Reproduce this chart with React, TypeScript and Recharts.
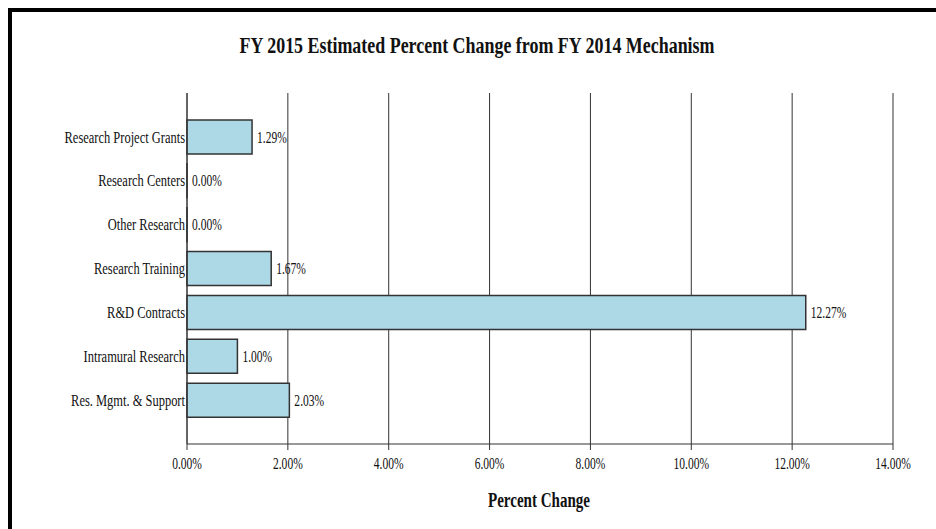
import React from 'react';
import { BarChart, Bar, XAxis, YAxis, CartesianGrid, LabelList } from 'recharts';

const categories = [
  'Research Project Grants',
  'Research Centers',
  'Other Research',
  'Research Training',
  'R&D Contracts',
  'Intramural Research',
  'Res. Mgmt. & Support',
];
const pctChange = [1.29, 0, 0, 1.67, 12.27, 1.0, 2.03];
const xTicks = [0, 2, 4, 6, 8, 10, 12, 14];

const data = categories.map((name, i) => ({ name, value: pctChange[i] }));

const FONT = '"Liberation Serif", "Times New Roman", serif';
const INK = '#333';
const fmt = (v: number) => `${v.toFixed(2)}%`;

function CategoryTick({ x, y, payload }: any) {
  return (
    <text
      transform={`translate(${x},${y}) scale(0.78,1)`}
      textAnchor="end"
      dy="0.35em"
      fontSize={16}
      fontFamily={FONT}
      fill="#111"
    >
      {payload.value}
    </text>
  );
}

function PercentTick({ x, y, payload }: any) {
  return (
    <text
      transform={`translate(${x},${y}) scale(0.72,1)`}
      textAnchor="middle"
      dy={17}
      fontSize={16}
      fontFamily={FONT}
      fill="#111"
    >
      {fmt(payload.value)}
    </text>
  );
}

function ValueLabel({ x, y, width, height, value }: any) {
  return (
    <text
      transform={`translate(${x + width + 5},${y + height / 2}) scale(0.72,1)`}
      textAnchor="start"
      dy="0.35em"
      fontSize={16}
      fontFamily={FONT}
      fill="#111"
    >
      {fmt(value)}
    </text>
  );
}

export default function App() {
  return (
    <div
      style={{
        position: 'fixed',
        left: 0,
        top: 0,
        width: 936,
        height: 529,
        overflow: 'hidden',
        background: '#fff',
      }}
    >
      <div
        style={{
          position: 'absolute',
          left: 8,
          top: 8,
          width: 960,
          height: 560,
          borderTop: '4px solid #000',
          borderLeft: '4px solid #000',
        }}
      />
      <div style={{ position: 'absolute', left: 0, top: 0 }}>
        <BarChart
          width={936}
          height={529}
          data={data}
          layout="vertical"
          margin={{ top: 93, right: 43, bottom: 55, left: 0 }}
        >
          <CartesianGrid horizontal={false} stroke={INK} />
          <XAxis
            type="number"
            domain={[0, 14]}
            ticks={xTicks}
            interval={0}
            height={30}
            tickSize={6}
            axisLine={{ stroke: INK }}
            tickLine={{ stroke: INK }}
            tick={<PercentTick />}
          />
          <YAxis
            type="category"
            dataKey="name"
            width={187}
            interval={0}
            tickLine={false}
            tickSize={0}
            tickMargin={2}
            axisLine={{ stroke: INK }}
            padding={{ top: 22, bottom: 22 }}
            tick={<CategoryTick />}
          />
          <Bar
            dataKey="value"
            fill="#ADD8E6"
            stroke={INK}
            strokeWidth={1.5}
            barSize={34}
            minPointSize={0.01}
            isAnimationActive={false}
          >
            <LabelList dataKey="value" content={<ValueLabel />} />
          </Bar>
        </BarChart>
      </div>
      <svg
        width={936}
        height={529}
        style={{ position: 'absolute', left: 0, top: 0, pointerEvents: 'none' }}
      >
        <text
          x={477}
          y={53}
          textAnchor="middle"
          fontSize={24}
          fontWeight="bold"
          fontFamily={FONT}
          fill="#111"
          textLength={475}
          lengthAdjust="spacingAndGlyphs"
        >
          FY 2015 Estimated Percent Change from FY 2014 Mechanism
        </text>
        <text
          x={539}
          y={507}
          textAnchor="middle"
          fontSize={20}
          fontWeight="bold"
          fontFamily={FONT}
          fill="#111"
          textLength={102}
          lengthAdjust="spacingAndGlyphs"
        >
          Percent Change
        </text>
      </svg>
    </div>
  );
}
